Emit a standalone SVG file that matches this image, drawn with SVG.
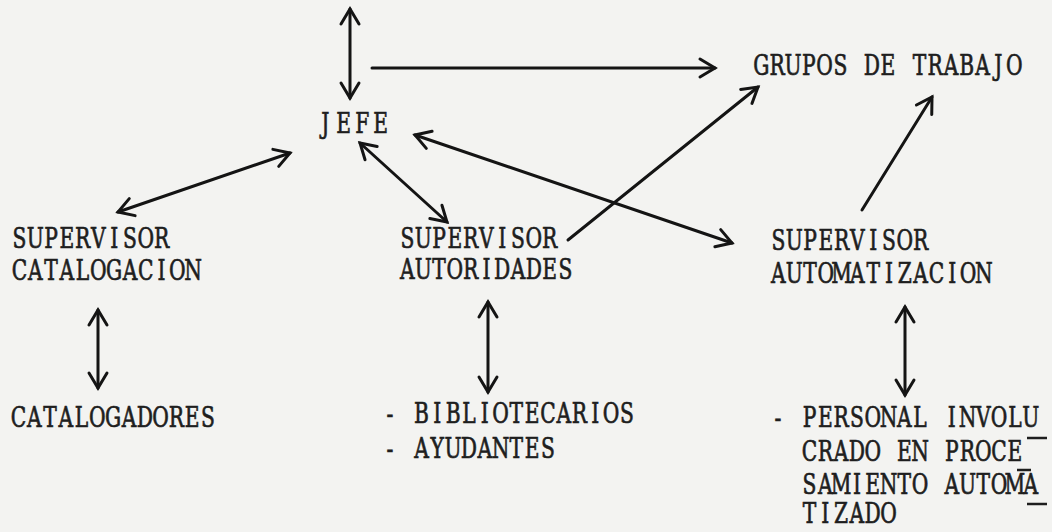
<svg xmlns="http://www.w3.org/2000/svg" width="1052" height="532" viewBox="0 0 1052 532">
  <style>
    .t { font-family: "DejaVu Serif", "Liberation Serif", serif; font-size: 27px; fill: #1e1e1e; stroke: #1e1e1e; stroke-width: 0.7px; text-anchor: middle; }
    .c { stroke: #141414; stroke-width: 3; fill: none; stroke-linecap: round; }
    .u { stroke: #1e1e1e; stroke-width: 2.5; }
  </style>
  <defs>
    <marker id="h" viewBox="-20 -12 24 24" markerWidth="24" markerHeight="24" refX="0" refY="0" orient="auto-start-reverse" markerUnits="userSpaceOnUse">
      <path d="M-15,-9 L0,0 L-15,9" fill="none" stroke="#141414" stroke-width="3" stroke-linecap="round"/>
    </marker>
  </defs>
  <rect width="1052" height="532" fill="#f3f3f1"/>

  <g id="connectors">
    <path class="c" d="M350,9 L350,98" marker-start="url(#h)" marker-end="url(#h)"/>
    <path class="c" d="M372,68 L715,68" marker-end="url(#h)"/>
    <path class="c" d="M118,212 L290,153" marker-start="url(#h)" marker-end="url(#h)"/>
    <path class="c" d="M360,143 L447,222" marker-start="url(#h)" marker-end="url(#h)"/>
    <path class="c" d="M415,135 L732,243" marker-start="url(#h)" marker-end="url(#h)"/>
    <path class="c" d="M568,240 L758,87" marker-end="url(#h)"/>
    <path class="c" d="M862,210 L932,97" marker-end="url(#h)"/>
    <path class="c" d="M98,310 L98,388" marker-start="url(#h)" marker-end="url(#h)"/>
    <path class="c" d="M488,302 L488,392" marker-start="url(#h)" marker-end="url(#h)"/>
    <path class="c" d="M905,307 L905,395" marker-start="url(#h)" marker-end="url(#h)"/>
  </g>

  <g id="jefe">
    <text class="t" transform="translate(316,133) scale(0.75,1)" x="12.33 37 61.67 86.33" y="0">JEFE</text>
  </g>
  <g id="grupos">
    <text class="t" transform="translate(753.5,75) scale(0.75,1)" x="10.53 31.6 52.67 73.73 94.8 115.87 136.93 158 179.07 200.13 221.2 242.27 263.33 284.4 305.47 326.53 347.6" y="0">GRUPOS DE TRABAJO</text>
  </g>
  <g id="sup-catalogacion">
    <text class="t" transform="translate(11.5,248) scale(0.75,1)" x="10.53 31.6 52.67 73.73 94.8 115.87 136.93 158 179.07 200.13 221.2 242.27 263.33 284.4 305.47 326.53 347.6" y="0">SUPERVISOR</text>
    <text class="t" transform="translate(11.5,280) scale(0.75,1)" x="10.53 31.6 52.67 73.73 94.8 115.87 136.93 158 179.07 200.13 221.2 242.27 263.33 284.4 305.47 326.53 347.6" y="0">CATALOGACION</text>
  </g>
  <g id="sup-autoridades">
    <text class="t" transform="translate(399.5,248) scale(0.75,1)" x="10.53 31.6 52.67 73.73 94.8 115.87 136.93 158 179.07 200.13 221.2 242.27 263.33 284.4 305.47 326.53 347.6" y="0">SUPERVISOR</text>
    <text class="t" transform="translate(399.5,279) scale(0.75,1)" x="10.53 31.6 52.67 73.73 94.8 115.87 136.93 158 179.07 200.13 221.2 242.27 263.33 284.4 305.47 326.53 347.6" y="0">AUTORIDADES</text>
  </g>
  <g id="sup-automatizacion">
    <text class="t" transform="translate(770.5,250) scale(0.75,1)" x="10.53 31.6 52.67 73.73 94.8 115.87 136.93 158 179.07 200.13 221.2 242.27 263.33 284.4 305.47 326.53 347.6" y="0">SUPERVISOR</text>
    <text class="t" transform="translate(770.5,283) scale(0.75,1)" x="10.53 31.6 52.67 73.73 94.8 115.87 136.93 158 179.07 200.13 221.2 242.27 263.33 284.4 305.47 326.53 347.6" y="0">AUTOMATIZACION</text>
  </g>
  <g id="catalogadores">
    <text class="t" transform="translate(10.5,427) scale(0.75,1)" x="10.53 31.6 52.67 73.73 94.8 115.87 136.93 158 179.07 200.13 221.2 242.27 263.33 284.4 305.47 326.53 347.6" y="0">CATALOGADORES</text>
  </g>
  <g id="bibliotecarios">
    <text class="t" transform="translate(382,423) scale(0.75,1)" x="10.53 31.6 52.67 73.73 94.8 115.87 136.93 158 179.07 200.13 221.2 242.27 263.33 284.4 305.47 326.53 347.6" y="0">- BIBLIOTECARIOS</text>
    <text class="t" transform="translate(382,458) scale(0.75,1)" x="10.53 31.6 52.67 73.73 94.8 115.87 136.93 158 179.07 200.13 221.2 242.27 263.33 284.4 305.47 326.53 347.6" y="0">- AYUDANTES</text>
  </g>
  <g id="personal">
    <text class="t" transform="translate(770,427) scale(0.75,1)" x="10.53 31.6 52.67 73.73 94.8 115.87 136.93 158 179.07 200.13 221.2 242.27 263.33 284.4 305.47 326.53 347.6" y="0">- PERSONAL INVOLU</text>
    <text class="t" transform="translate(801.6,461) scale(0.75,1)" x="10.53 31.6 52.67 73.73 94.8 115.87 136.93 158 179.07 200.13 221.2 242.27 263.33 284.4 305.47 326.53 347.6" y="0">CRADO EN PROCE</text>
    <text class="t" transform="translate(801.6,494) scale(0.75,1)" x="10.53 31.6 52.67 73.73 94.8 115.87 136.93 158 179.07 200.13 221.2 242.27 263.33 284.4 305.47 326.53 347.6" y="0">SAMIENTO AUTOMA</text>
    <text class="t" transform="translate(801.6,523) scale(0.75,1)" x="10.53 31.6 52.67 73.73 94.8 115.87 136.93 158 179.07 200.13 221.2 242.27 263.33 284.4 305.47 326.53 347.6" y="0">TIZADO</text>
    <line class="u" x1="1027" y1="438" x2="1047" y2="438"/>
    <line class="u" x1="1017" y1="470" x2="1031" y2="470"/>
    <line class="u" x1="1027" y1="504" x2="1047" y2="504"/>
  </g>
</svg>
